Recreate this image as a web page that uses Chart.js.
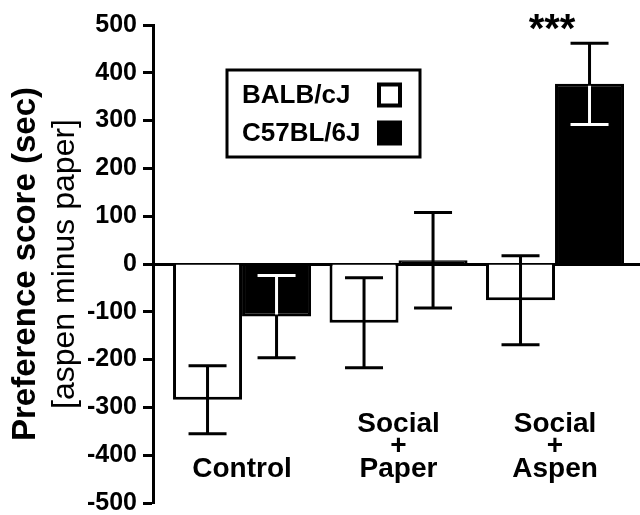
<!DOCTYPE html>
<html>
<head>
<meta charset="utf-8">
<script src="https://cdn.jsdelivr.net/npm/chart.js@4.4.0/dist/chart.umd.min.js"></script>
<style>
html, body { margin: 0; padding: 0; background: #fff; }
#wrap { width: 640px; height: 515px; }
</style>
</head>
<body>
<div id="wrap"><canvas id="chart" width="640" height="515"></canvas></div>
<script>
// values (seconds, mean +/- SEM)
var CATEGORIES = ['Control', ['Social', '+', 'Paper'], ['Social', '+', 'Aspen']];
var SERIES_NAMES = ['BALB/cJ', 'C57BL/6J'];
var BALB_MEAN = [-284, -123, -76];
var BALB_SEM = [71, 94, 93];
var C57_MEAN = [-110, 8, 377];
var C57_SEM = [86, 100, 85];
var Y_TICKS = [-500, -400, -300, -200, -100, 0, 100, 200, 300, 400, 500];
var SIG_MARKS = ['', '', '***'];
var Y_TITLE = ['Preference score (sec)', '[aspen minus paper]'];

(function () {
    'use strict';

    var FONT = 'Liberation Sans, Arial, Helvetica, sans-serif';

    function points(values) {
        var out = [];
        for (var i = 0; i < values.length; i++) {
            out.push({ x: i, y: values[i] });
        }
        return out;
    }

    // SEM whiskers; white where they run inside a filled bar
    var errorBars = {
        id: 'errorBars',
        afterDatasetsDraw: function (chart) {
            var ctx = chart.ctx;
            var yScale = chart.scales.y;
            chart.data.datasets.forEach(function (ds, di) {
                var meta = chart.getDatasetMeta(di);
                meta.data.forEach(function (bar, i) {
                    var mean = ds.data[i].y;
                    var err = ds.errors[i];
                    var yTop = yScale.getPixelForValue(mean + err);
                    var yBot = yScale.getPixelForValue(mean - err);
                    var half = 19;
                    function path() {
                        ctx.beginPath();
                        ctx.moveTo(bar.x, yTop);
                        ctx.lineTo(bar.x, yBot);
                        ctx.moveTo(bar.x - half, yTop);
                        ctx.lineTo(bar.x + half, yTop);
                        ctx.moveTo(bar.x - half, yBot);
                        ctx.lineTo(bar.x + half, yBot);
                        ctx.stroke();
                    }
                    ctx.save();
                    ctx.lineWidth = 3;
                    ctx.strokeStyle = '#000';
                    path();
                    if (ds.backgroundColor === '#000') {
                        var t = Math.min(bar.y, bar.base) + 2;
                        var b = Math.max(bar.y, bar.base) - 2;
                        if (b > t) {
                            ctx.beginPath();
                            ctx.rect(bar.x - bar.width / 2 + 2, t, bar.width - 4, b - t);
                            ctx.clip();
                            ctx.strokeStyle = '#fff';
                            path();
                        }
                    }
                    ctx.restore();
                });
            });
        }
    };

    var extras = {
        id: 'extras',
        afterDraw: function (chart) {
            var ctx = chart.ctx;
            var area = chart.chartArea;
            var xScale = chart.scales.x;
            var yScale = chart.scales.y;
            ctx.save();

            // y axis title, two lines with different weights
            var cy = (area.top + area.bottom) / 2;
            ctx.translate(26, cy);
            ctx.rotate(-Math.PI / 2);
            ctx.fillStyle = '#000';
            ctx.textAlign = 'center';
            ctx.textBaseline = 'middle';
            ctx.font = 'bold 33px ' + FONT;
            ctx.fillText(Y_TITLE[0], 0, 0);
            ctx.font = '32px ' + FONT;
            ctx.fillText(Y_TITLE[1], 0, 39);
            ctx.restore();

            // significance stars
            ctx.save();
            ctx.fillStyle = '#000';
            ctx.textAlign = 'center';
            ctx.textBaseline = 'middle';
            ctx.font = 'bold 40px ' + FONT;
            for (var i = 0; i < SIG_MARKS.length; i++) {
                if (SIG_MARKS[i]) {
                    ctx.fillText(SIG_MARKS[i], xScale.getPixelForValue(i) - 3, yScale.getPixelForValue(500) + 6);
                }
            }
            ctx.restore();

            // boxed legend, swatch to the right of the text
            var lx = area.left + 74, ly = area.top + 45, lw = 193, lh = 87;
            ctx.save();
            ctx.lineWidth = 3;
            ctx.strokeStyle = '#000';
            ctx.strokeRect(lx, ly, lw, lh);
            ctx.font = 'bold 26px ' + FONT;
            ctx.textAlign = 'left';
            ctx.textBaseline = 'middle';
            chart.data.datasets.forEach(function (ds, di) {
                var rowY = ly + 25 + di * 38;
                ctx.fillStyle = '#000';
                ctx.fillText(ds.label, lx + 15, rowY + 1);
                ctx.fillRect(lx + 150, rowY - 12.5, 25, 25);
                if (ds.backgroundColor !== '#000') {
                    ctx.fillStyle = ds.backgroundColor;
                    ctx.fillRect(lx + 154, rowY - 8.5, 17, 17);
                }
            });
            ctx.restore();
        }
    };

    function boot() {
        var canvas = document.getElementById('chart');
        if (typeof Chart === 'undefined') {
            return;
        }

        new Chart(canvas, {
            type: 'bar',
            data: {
                datasets: [{
                    label: SERIES_NAMES[0],
                    data: points(BALB_MEAN),
                    errors: BALB_SEM,
                    backgroundColor: '#fff',
                    borderColor: '#000',
                    borderWidth: 3
                }, {
                    label: SERIES_NAMES[1],
                    data: points(C57_MEAN),
                    errors: C57_SEM,
                    backgroundColor: '#000',
                    borderColor: '#000',
                    borderWidth: 3
                }]
            },
            options: {
                responsive: false,
                animation: false,
                categoryPercentage: 0.882,
                barPercentage: 1.0,
                layout: {
                    padding: { left: 0, right: 0, top: 25, bottom: 12 }
                },
                plugins: {
                    legend: { display: false },
                    tooltip: { enabled: false }
                },
                scales: {
                    x: {
                        type: 'linear',
                        position: { y: 0 },
                        offset: false,
                        min: -0.569,
                        max: 2.543,
                        afterBuildTicks: function (scale) {
                            scale.ticks = CATEGORIES.map(function (c, i) {
                                return { value: i };
                            });
                        },
                        afterFit: function (scale) {
                            scale.paddingLeft = 0;
                            scale.paddingRight = 0;
                            scale.paddingTop = 0;
                            scale.paddingBottom = 0;
                        },
                        ticks: {
                            color: '#000',
                            autoSkip: false,
                            maxRotation: 0,
                            crossAlign: 'far',
                            padding: 152,
                            font: { family: FONT, size: 28, weight: 'bold', lineHeight: 0.8 },
                            callback: function (v) {
                                return CATEGORIES[v];
                            }
                        },
                        grid: { display: false },
                        border: { display: true, color: '#000', width: 3 }
                    },
                    y: {
                        min: -500,
                        max: 500,
                        afterBuildTicks: function (scale) {
                            scale.ticks = Y_TICKS.map(function (v) {
                                return { value: v };
                            });
                        },
                        afterFit: function (scale) {
                            scale.width = 153;
                            scale.paddingTop = 0;
                            scale.paddingBottom = 0;
                        },
                        ticks: {
                            color: '#000',
                            padding: 6,
                            font: { family: FONT, size: 25, weight: 'bold' }
                        },
                        grid: {
                            drawOnChartArea: false,
                            drawTicks: true,
                            tickLength: 10,
                            tickWidth: 3,
                            color: '#000'
                        },
                        border: { display: true, color: '#000', width: 3 }
                    }
                }
            },
            plugins: [errorBars, extras]
        });
    }

    if (document.readyState === 'loading') {
        document.addEventListener('DOMContentLoaded', boot);
    } else {
        boot();
    }
})();
</script>
</body>
</html>
